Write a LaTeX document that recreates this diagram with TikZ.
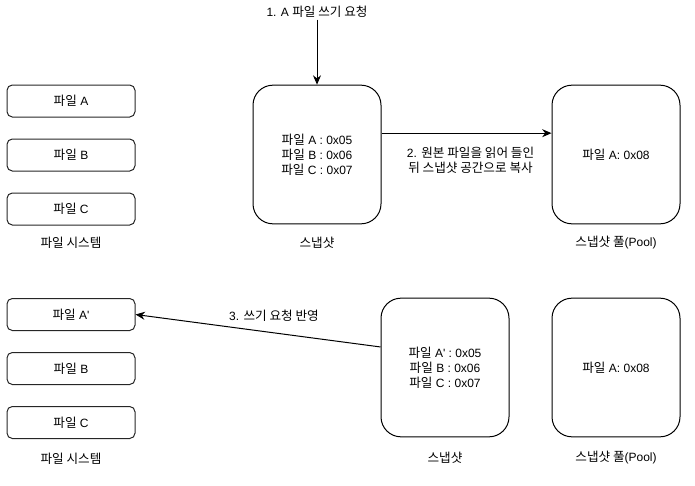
\documentclass[tikz,border=0pt]{standalone}
\usepackage{fontspec}
\setmainfont{Liberation Sans}[Ligatures=TeXOff]
\newfontfamily\kr{Noto Sans CJK KR}[Scale=1.05]
\newcommand{\ko}[1]{{\kr #1}}
\usetikzlibrary{positioning,arrows.meta}
\tikzset{
  fbox/.style={rectangle, rounded corners=4pt, minimum width=96pt, minimum height=24pt, inner sep=0pt, text centered, draw=black!85, line width=0.75pt},
  sbox/.style={rectangle, rounded corners=15pt, minimum width=96pt, minimum height=104pt, inner sep=0pt, align=center, draw=black, line width=0.75pt},
  lbl/.style={inner sep=1pt, align=center},
  node distance=15.75pt
}
\begin{document}
\begin{tikzpicture}[x=0.75pt, y=-0.75pt, font=\fontsize{9}{11.25}\selectfont, >={Stealth[length=7pt,width=6pt]}, line width=0.75pt]
	\useasboundingbox (0,0) rectangle (695,485);
	% upper row
	\node[fbox] (fa) at (71,101) {\ko{파일} A};
	\node[fbox, below=of fa] (fb) {\ko{파일} B};
	\node[fbox, below=of fb] (fc) {\ko{파일} C};
	\node[lbl] (fs) at (71,243) {\ko{파일 시스템}};
	\node[sbox] (snap) at (317,154.5) {\ko{파일} A : 0x05\\\ko{파일} B : 0x06\\\ko{파일} C : 0x07};
	\node[lbl] (snaplbl) at (317,243) {\ko{스냅샷}};
	\node[sbox] (pool) at (616,154.5) {\ko{파일} A: 0x08};
	\node[lbl] (poollbl) at (616,243) {\ko{스냅샷 풀}(Pool)};
	\node[lbl] (req) at (317,12) {1. A \ko{파일 쓰기 요청}};
	%
	\draw[->] (req) -- (snap);
	\draw[->] ([yshift=16pt]snap.east) -- node[lbl, below=9pt, xshift=3pt] {2. \ko{원본 파일을 읽어 들인}\\\ko{뒤 스냅샷 공간으로 복사}} ([yshift=16pt]pool.west);
	% lower row
	\node[fbox] (fa2) at (71,314.5) {\ko{파일} A'};
	\node[fbox, below=of fa2] (fb2) {\ko{파일} B};
	\node[fbox, below=of fb2] (fc2) {\ko{파일} C};
	\node[lbl] (fs2) at (71,459) {\ko{파일 시스템}};
	\node[sbox] (snap2) at (445,367.5) {\ko{파일} A' : 0x05\\\ko{파일} B : 0x06\\\ko{파일} C : 0x07};
	\node[lbl] (snaplbl2) at (445,458) {\ko{스냅샷}};
	\node[sbox] (pool2) at (616,367.5) {\ko{파일} A: 0x08};
	\node[lbl] (poollbl2) at (616,458) {\ko{스냅샷 풀}(Pool)};
	%
	\draw[->] ([yshift=15.4pt]snap2.west) -- (fa2.east);
	\node[lbl] (reflect) at (274,316) {3. \ko{쓰기 요청 반영}};
\end{tikzpicture}
\end{document}
